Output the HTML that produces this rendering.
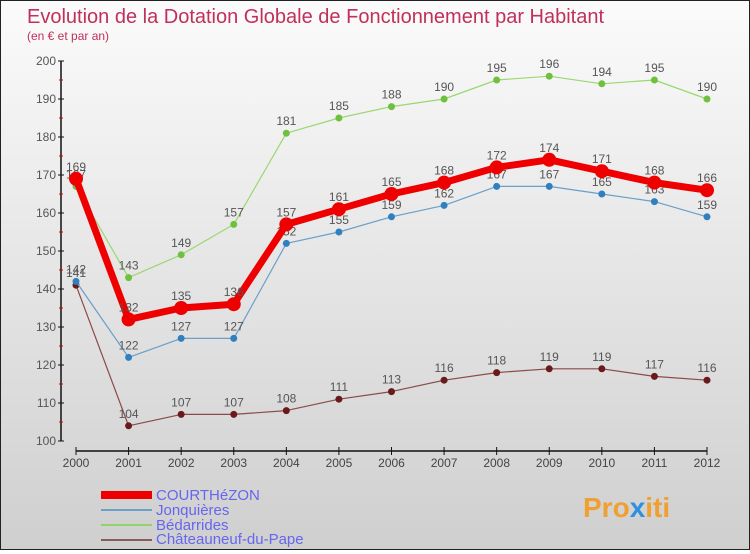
<!DOCTYPE html>
<html><head><meta charset="utf-8"><style>
html,body{margin:0;padding:0}
body{width:750px;height:550px;overflow:hidden;font-family:"Liberation Sans",sans-serif}
#wrap{position:relative;width:748px;height:548px;border:1px solid #222;background:linear-gradient(#fbfbfb,#cfcfcf)}
</style></head><body>
<div id="wrap">
<svg id="c" width="748" height="548" xmlns="http://www.w3.org/2000/svg">
<text x="26" y="22" font-size="20" fill="#c0305a">Evolution de la Dotation Globale de Fonctionnement par Habitant</text>
<text x="26" y="39" font-size="12" fill="#c0305a">(en € et par an)</text>
<g id="axes"></g><g id="series"></g>
<g>
<rect x="100" y="490" width="51" height="8" fill="#e00"/>
<text x="155" y="499" font-size="15" fill="#6666ee">COURTHéZON</text>
<rect x="100" y="508" width="51" height="2" fill="#6a9fc8"/>
<text x="155" y="514" font-size="15" fill="#6666ee">Jonquières</text>
<rect x="100" y="523" width="51" height="2" fill="#8fd36a"/>
<text x="155" y="529" font-size="15" fill="#6666ee">Bédarrides</text>
<rect x="100" y="538" width="51" height="2" fill="#8a5a5a"/>
<text x="155" y="543" font-size="15" fill="#6666ee">Châteauneuf-du-Pape</text>
</g>
<text x="582" y="516" font-size="28" font-weight="bold" fill="#f0a030">Pro<tspan fill="#3090e0">x</tspan>iti</text>
</svg>
</div>
<script>
const years=[2000,2001,2002,2003,2004,2005,2006,2007,2008,2009,2010,2011,2012];
const courthezon=[169,132,135,136,157,161,165,168,172,174,171,168,166];
const jonquieres=[142,122,127,127,152,155,159,162,167,167,165,163,159];
const bedarrides=[167,143,149,157,181,185,188,190,195,196,194,195,190];
const chateauneuf=[141,104,107,107,108,111,113,116,118,119,119,117,116];
const yTicks=[100,110,120,130,140,150,160,170,180,190,200];
const NS="http://www.w3.org/2000/svg";
function X(i){return 75+i*(706-75)/(years.length-1);}
function Y(v){return 440-(v-100)*3.8;}
function mk(t,a,p,txt){const e=document.createElementNS(NS,t);for(const k in a)e.setAttribute(k,a[k]);if(txt!==undefined)e.textContent=txt;p.appendChild(e);return e;}
const ax=document.getElementById('axes');
const ya=mk('line',{x1:60,y1:60,x2:60,y2:440,stroke:'#111','stroke-width':1.5},ax);


for(let v=105;v<200;v+=10){mk('line',{x1:58,x2:62,y1:Y(v),y2:Y(v),stroke:'#d00'},ax);}
yTicks.forEach(v=>{mk('line',{x1:57,x2:63,y1:Y(v),y2:Y(v),stroke:'#111'},ax);
const t=mk('text',{x:55,y:Y(v)+4,'font-size':12,fill:'#555','text-anchor':'end'},ax,v);

});
const xa=mk('line',{x1:75,y1:450,x2:706,y2:450,stroke:'#111','stroke-width':1.5},ax);


years.forEach((y,i)=>{mk('line',{x1:X(i),x2:X(i),y1:446,y2:454,stroke:'#111'},ax);
const t=mk('text',{x:X(i),y:466,'font-size':12,fill:'#444','text-anchor':'middle'},ax,y);

});
const sg=document.getElementById('series');
function draw(name,data,color,w,r,dot){
const g=mk('g',{},sg);


const pts=data.map((v,i)=>X(i)+','+Y(v)).join(' ');
mk('polyline',{points:pts,fill:'none',stroke:color,'stroke-width':w,'stroke-linejoin':'round'},g);
data.forEach((v,i)=>{const c=mk('circle',{cx:X(i),cy:Y(v),r:r,fill:dot},g);


const t=mk('text',{x:X(i),y:Y(v)-8,'font-size':12,fill:'#555','text-anchor':'middle'},g,v);

});
}
draw('chateauneuf',chateauneuf,'#8a4a4a',1.2,3.5,'#6a1a1a');
draw('jonquieres',jonquieres,'#6a9fc8',1.2,3.5,'#3080c0');
draw('bedarrides',bedarrides,'#9ad870',1.2,3.5,'#70c040');
draw('courthezon',courthezon,'#ee0000',7,7,'#ee0000');
</script>
</body></html>
